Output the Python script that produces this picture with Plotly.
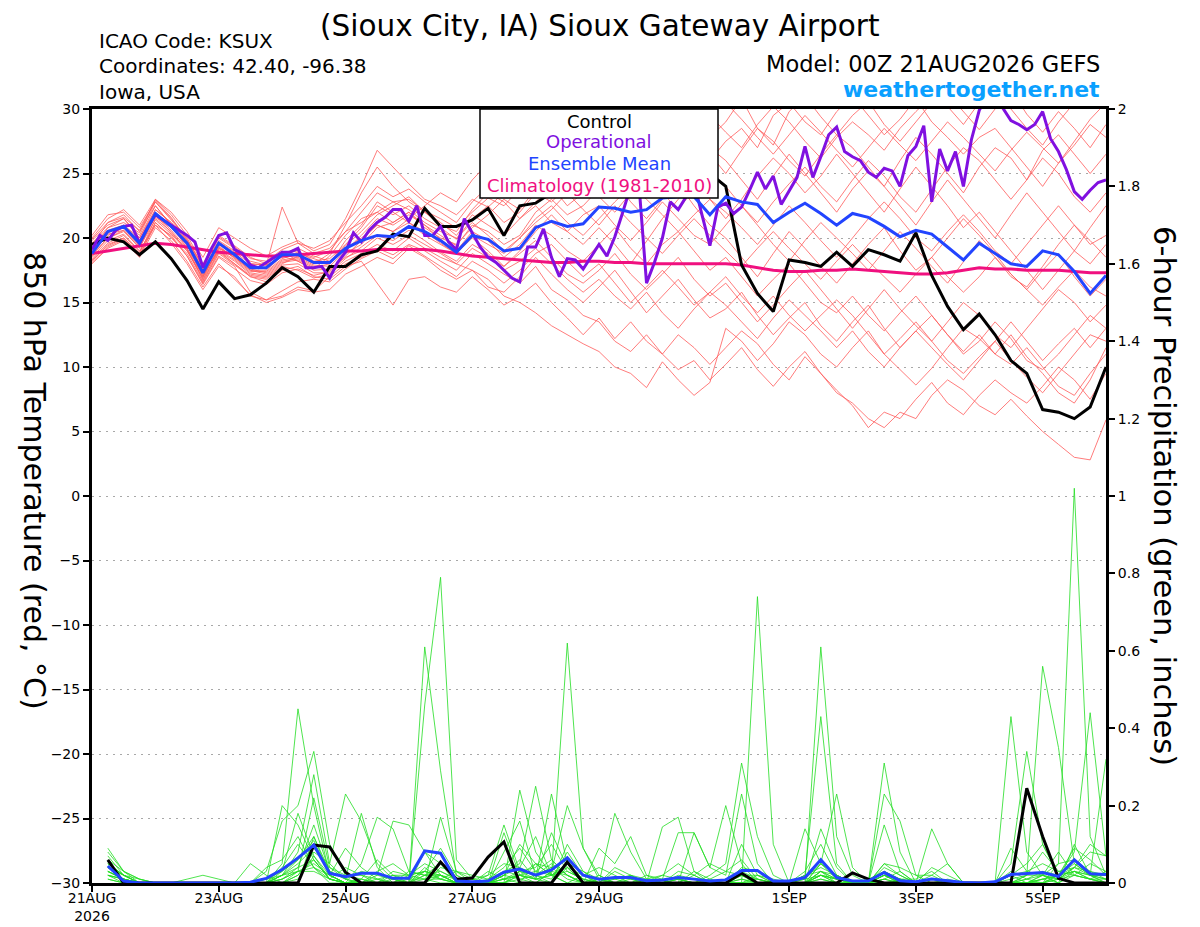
import pandas as pd
import plotly.graph_objects as go

FONT = 'DejaVu Sans, Liberation Sans, Arial, sans-serif'

# ensemble output every 6 h, operational run every 3 h
times = pd.date_range('2026-08-21 00:00', periods=65, freq='6h')
op_times = pd.date_range('2026-08-21 00:00', periods=129, freq='3h')
precip_times = times[1:]

tick_dates = ['2026-08-21', '2026-08-23', '2026-08-25', '2026-08-27',
              '2026-08-29', '2026-09-01', '2026-09-03', '2026-09-05']
tick_labels = ['21AUG<br>2026', '23AUG', '25AUG', '27AUG', '29AUG', '1SEP', '3SEP', '5SEP']
temp_ticks = [-30, -25, -20, -15, -10, -5, 0, 5, 10, 15, 20, 25, 30]
precip_ticks = [0, 0.2, 0.4, 0.6, 0.8, 1.0, 1.2, 1.4, 1.6, 1.8, 2.0]
precip_tick_labels = ['0', '0.2', '0.4', '0.6', '0.8', '1', '1.2', '1.4', '1.6', '1.8', '2']

# 850 hPa temperature (C)
control_temp = [19.5, 20.0, 19.7, 18.7, 19.7, 18.4, 16.7, 14.5, 16.6, 15.3,
                15.6, 16.5, 17.7, 17.0, 15.8, 17.8, 17.8, 18.7, 19.0, 20.3,
                20.1, 22.3, 20.9, 20.9, 21.4, 22.3, 20.2, 22.5, 22.7, 23.5,
                24.0, 23.5, 24.5, 24.0, 25.0, 24.5, 25.5, 24.8, 25.5, 25.0,
                24.0, 17.9, 15.7, 14.3, 18.3, 18.1, 17.8, 18.9, 17.8, 19.1,
                18.7, 18.2, 20.4, 17.1, 14.7, 12.9, 14.1, 12.5, 10.5, 9.5,
                6.7, 6.5, 6.0, 6.9, 10.0]

operational_temp = [19.1, 20.2, 19.8, 20.6, 20.9, 21.0, 19.6, 20.8, 21.8, 21.4,
                    21.0, 20.6, 20.2, 19.7, 17.7, 19.1, 20.2, 20.4, 19.1, 18.8,
                    17.9, 17.7, 18.1, 18.5, 18.9, 18.9, 19.2, 17.7, 17.7, 17.8,
                    16.9, 18.1, 18.9, 20.4, 19.7, 20.6, 21.2, 21.6, 22.2, 22.2,
                    21.3, 22.5, 20.2, 20.2, 20.9, 19.7, 19.1, 21.5, 20.4, 19.3,
                    18.5, 18.1, 17.5, 16.9, 16.6, 19.3, 19.3, 20.7, 18.5, 17.0,
                    18.4, 18.3, 17.6, 18.5, 19.5, 18.6, 20.1, 22.0, 24.0, 24.5,
                    16.5, 18.1, 20.0, 22.8, 22.2, 23.2, 24.3, 21.8, 19.4, 22.4,
                    22.7, 21.9, 22.4, 23.7, 25.1, 23.8, 24.8, 22.6, 23.7, 24.7,
                    27.1, 24.7, 26.3, 28.0, 28.6, 26.7, 26.3, 26.0, 25.1, 24.7,
                    25.4, 25.2, 24.0, 26.4, 27.1, 28.7, 22.8, 26.9, 25.2, 26.7,
                    24.0, 27.6, 29.9, 31.0, 31.0, 30.0, 29.1, 28.8, 28.4, 28.8,
                    29.8, 27.7, 26.7, 25.3, 23.6, 23.0, 23.7, 24.3, 24.5]

mean_temp = [18.8, 20.5, 20.9, 19.6, 21.9, 20.9, 19.6, 17.3, 19.6, 18.7,
             17.7, 17.7, 18.7, 18.7, 18.1, 18.1, 19.2, 19.8, 20.2, 20.1,
             20.9, 20.5, 19.8, 18.9, 20.2, 19.9, 19.0, 19.2, 20.8, 21.3,
             20.9, 21.1, 22.4, 22.3, 22.0, 22.2, 23.1, 23.2, 23.2, 21.8,
             23.2, 22.8, 22.6, 21.2, 22.0, 22.7, 21.9, 21.0, 21.9, 21.6,
             20.9, 20.1, 20.6, 20.3, 19.3, 18.3, 19.6, 18.8, 18.0, 17.8,
             19.0, 18.7, 17.4, 15.7, 17.1]

climo_temp = [18.8, 19.0, 19.2, 19.4, 19.6, 19.5, 19.3, 19.1, 18.9, 18.8,
              18.7, 18.6, 18.6, 18.7, 18.8, 18.9, 19.0, 19.0, 19.1, 19.1,
              19.1, 19.1, 19.0, 18.8, 18.6, 18.5, 18.4, 18.3, 18.2, 18.1,
              18.1, 18.2, 18.2, 18.1, 18.1, 18.0, 18.0, 18.0, 18.0, 18.0,
              18.0, 17.9, 17.7, 17.5, 17.4, 17.4, 17.5, 17.5, 17.6, 17.5,
              17.4, 17.3, 17.2, 17.2, 17.3, 17.5, 17.7, 17.6, 17.6, 17.5,
              17.5, 17.5, 17.4, 17.3, 17.3]

ens_t01 = [19.0, 20.8, 21.5, 20.2, 22.8, 21.5, 20.0, 17.8, 19.8, 19.0, 18.2, 17.9, 18.5, 18.9, 18.5, 19.0,
           20.5, 22.0, 23.5, 22.8, 23.0, 22.1, 21.5, 20.8, 22.0, 23.1, 22.5, 23.8, 25.0, 24.2, 25.5, 26.8,
           27.5, 26.0, 28.2, 29.5, 28.0, 30.5, 29.2, 27.8, 29.0, 30.8, 28.5, 27.2, 29.8, 31.0, 29.4, 28.0,
           29.5, 30.6, 28.8, 27.5, 29.0, 30.5, 31.2, 29.8, 28.4, 30.0, 31.5, 29.6, 28.2, 29.8, 28.5, 27.0, 28.8]
ens_t02 = [18.5, 19.8, 20.3, 19.0, 21.0, 20.2, 18.6, 16.5, 18.6, 17.8, 15.8, 15.2, 15.5, 16.2, 15.9, 17.0,
           18.0, 18.5, 19.2, 18.7, 19.5, 19.0, 18.2, 17.5, 18.8, 18.0, 17.2, 16.5, 17.8, 16.0, 15.2, 14.0,
           13.5, 12.0, 11.2, 12.5, 11.0, 9.8, 10.5, 9.0, 10.2, 11.5, 9.8, 8.5, 10.0, 11.2, 9.5, 8.0,
           7.2, 6.0, 5.3, 6.5, 6.0, 7.8, 9.0, 8.2, 7.0, 6.3, 7.5, 6.2, 5.0, 4.0, 3.0, 2.8, 5.9]
ens_t03 = [19.4, 21.2, 21.8, 20.5, 22.5, 21.0, 19.2, 16.8, 19.0, 18.0, 17.0, 16.8, 17.8, 17.5, 16.9, 17.2,
           18.2, 18.8, 19.5, 19.0, 20.0, 19.2, 18.5, 18.0, 17.5, 16.8, 15.5, 15.0, 14.2, 13.2, 12.5, 11.8,
           11.2, 10.0, 9.5, 8.4, 10.4, 9.0, 7.8, 8.8, 13.0, 12.0, 10.5, 11.8, 13.5, 12.5, 11.0, 10.0,
           11.5, 12.8, 11.0, 9.8, 8.6, 9.9, 11.5, 13.0, 12.2, 11.0, 12.5, 10.8, 9.5, 8.0, 7.2, 9.0, 11.5]
ens_t04 = [20.0, 21.5, 22.2, 21.0, 23.0, 22.0, 20.5, 18.5, 20.8, 20.0, 19.2, 18.6, 19.3, 19.8, 19.0, 19.5,
           21.5, 24.0, 26.8, 25.5, 24.2, 23.0, 22.5, 21.8, 23.0, 22.4, 23.5, 24.8, 25.8, 26.5, 25.0, 27.2,
           28.0, 27.0, 25.5, 27.8, 29.0, 28.2, 27.0, 26.5, 25.0, 26.8, 28.5, 27.5, 26.0, 24.8, 26.5, 28.0,
           27.0, 25.5, 24.0, 26.0, 27.8, 26.5, 25.0, 23.5, 25.5, 27.0, 26.2, 24.5, 26.8, 28.0, 26.5, 25.0, 26.5]
ens_t05 = [18.2, 19.5, 20.0, 18.8, 21.5, 20.5, 19.0, 16.9, 19.2, 18.5, 17.5, 17.2, 18.2, 18.4, 17.8, 17.5,
           18.8, 19.5, 20.8, 21.2, 22.0, 21.0, 20.2, 19.4, 21.0, 20.5, 19.5, 20.2, 22.0, 23.0, 21.8, 22.5,
           23.8, 24.5, 22.8, 21.5, 23.0, 24.2, 22.5, 21.0, 20.0, 18.5, 17.0, 18.8, 20.5, 19.2, 17.8, 16.5,
           18.0, 19.5, 20.8, 19.0, 17.5, 18.5, 20.0, 21.5, 20.2, 18.8, 17.2, 16.0, 17.5, 18.8, 17.0, 15.5, 16.8]
ens_t06 = [18.0, 19.2, 19.8, 18.5, 20.8, 19.8, 18.2, 16.2, 18.0, 16.8, 15.6, 15.0, 15.4, 16.0, 15.8, 16.0,
           17.2, 17.8, 18.5, 18.0, 19.2, 18.5, 17.5, 16.8, 17.5, 16.2, 15.8, 17.0, 18.5, 17.2, 16.0, 15.0,
           16.2, 17.5, 15.8, 14.2, 15.5, 16.8, 15.2, 13.8, 14.5, 15.8, 14.0, 12.5, 13.8, 15.0, 13.2, 12.0,
           13.5, 14.8, 13.0, 11.5, 12.8, 14.0, 12.5, 11.0, 12.0, 13.5, 12.2, 10.5, 9.8, 11.0, 12.5, 14.0, 13.0]
ens_t07 = [19.2, 20.5, 21.0, 19.8, 22.2, 21.2, 19.8, 17.5, 19.5, 18.8, 17.8, 17.6, 18.8, 19.0, 18.2, 18.4,
           19.5, 20.8, 22.5, 21.8, 22.5, 21.5, 20.8, 19.9, 21.5, 22.5, 21.2, 22.0, 23.5, 22.8, 24.0, 25.2,
           24.5, 25.8, 27.0, 26.0, 27.5, 28.8, 27.2, 26.0, 27.5, 28.5, 27.0, 29.5, 30.5, 29.0, 28.0, 29.8,
           31.0, 29.5, 28.0, 29.2, 30.8, 29.0, 27.8, 26.5, 27.8, 28.5, 27.0, 25.5, 24.0, 25.8, 27.5, 29.2, 30.5]
ens_t08 = [19.8, 21.0, 21.5, 20.0, 22.5, 21.0, 19.5, 17.0, 19.2, 18.6, 17.6, 17.3, 18.3, 18.5, 17.9, 17.8,
           19.0, 20.2, 21.5, 21.0, 21.8, 21.0, 19.9, 19.0, 20.5, 19.8, 18.5, 19.5, 21.0, 20.2, 19.0, 18.2,
           19.5, 20.8, 19.2, 18.0, 19.5, 20.5, 19.0, 17.5, 18.5, 17.0, 15.5, 16.8, 18.0, 16.5, 15.0, 14.2,
           15.5, 14.0, 12.8, 14.2, 15.5, 14.0, 12.5, 11.2, 12.5, 11.0, 10.2, 11.5, 10.0, 8.5, 7.8, 9.5, 11.0]
ens_t09 = [18.6, 20.0, 20.6, 19.2, 21.8, 20.6, 19.2, 17.2, 19.0, 18.2, 17.2, 17.0, 18.0, 18.6, 18.0, 18.8,
           21.0, 23.5, 25.5, 24.0, 22.8, 22.0, 21.2, 20.2, 21.8, 21.0, 20.2, 21.5, 22.8, 24.0, 22.5, 23.5,
           25.0, 24.0, 25.5, 26.8, 25.5, 24.2, 25.8, 27.0, 26.0, 24.5, 23.0, 24.8, 26.5, 25.0, 23.5, 22.0,
           23.8, 25.2, 24.0, 22.5, 21.0, 22.8, 24.5, 23.0, 21.5, 20.0, 21.8, 23.5, 22.0, 20.5, 19.0, 20.8, 22.5]
ens_t10 = [18.4, 19.6, 20.2, 18.9, 21.2, 20.0, 18.8, 16.6, 18.8, 17.9, 17.0, 16.6, 17.5, 17.8, 17.0, 16.8,
           17.8, 18.2, 16.5, 14.8, 16.8, 17.0, 16.2, 15.8, 17.0, 16.0, 14.8, 15.5, 16.5, 15.0, 13.8, 12.5,
           13.8, 12.2, 13.5, 12.0, 11.0, 12.5, 11.5, 10.2, 11.5, 12.8, 11.8, 10.2, 9.0, 10.8, 9.5, 8.2,
           7.0, 5.3, 6.5, 6.0, 7.5, 8.8, 7.2, 6.3, 7.8, 9.0, 8.0, 7.2, 8.5, 10.0, 9.0, 7.5, 9.5]
ens_t11 = [19.6, 20.8, 21.2, 20.4, 23.0, 21.8, 20.2, 18.0, 20.2, 19.4, 18.5, 18.0, 18.8, 19.2, 18.6, 18.2,
           19.4, 20.5, 21.8, 22.5, 23.2, 22.0, 21.0, 20.5, 22.2, 23.5, 22.8, 21.5, 22.5, 21.2, 20.5, 21.8,
           22.5, 21.0, 19.8, 21.2, 22.8, 21.5, 20.2, 19.5, 21.0, 22.5, 21.0, 19.5, 18.2, 19.8, 21.2, 20.0,
           18.8, 17.5, 19.0, 20.5, 19.2, 17.8, 16.5, 18.2, 19.8, 18.5, 17.0, 16.2, 17.8, 19.5, 21.0, 19.8, 18.5]
ens_t12 = [18.9, 20.2, 20.8, 19.4, 21.6, 20.8, 19.4, 17.4, 19.4, 18.4, 17.4, 17.4, 18.4, 18.8, 18.4, 18.0,
           19.2, 20.0, 21.0, 20.5, 21.5, 22.5, 23.5, 22.8, 24.5, 25.8, 24.5, 26.0, 27.2, 26.0, 27.5, 28.5,
           27.2, 28.8, 30.0, 29.0, 27.8, 29.5, 30.8, 29.5, 28.2, 27.0, 28.8, 30.2, 29.0, 27.5, 26.2, 27.8,
           29.0, 28.0, 26.8, 28.5, 29.8, 31.0, 30.2, 28.8, 30.5, 31.5, 30.0, 28.5, 27.2, 29.0, 30.5, 31.2, 30.0]
ens_t13 = [19.0, 20.4, 20.9, 19.5, 22.0, 20.9, 19.5, 17.0, 19.3, 18.5, 17.5, 17.5, 18.6, 18.2, 17.5, 17.6,
           18.5, 19.0, 20.0, 19.5, 20.2, 19.5, 18.8, 18.0, 19.2, 18.5, 17.8, 18.8, 19.8, 18.5, 17.2, 16.5,
           17.5, 18.8, 17.2, 16.0, 17.2, 18.5, 16.8, 15.5, 16.5, 15.0, 13.5, 14.8, 16.2, 17.5, 16.0, 14.5,
           13.0, 14.5, 16.0, 14.5, 13.2, 12.0, 13.5, 15.0, 14.0, 12.5, 11.5, 13.0, 14.5, 16.0, 15.0, 13.5, 14.8]
ens_t14 = [20.2, 21.8, 22.0, 20.8, 22.8, 21.4, 19.9, 17.7, 20.0, 19.2, 18.0, 17.9, 19.0, 18.2, 17.6, 18.6,
           20.2, 21.5, 22.0, 21.2, 22.0, 20.8, 20.0, 19.5, 20.8, 21.8, 23.0, 22.2, 23.8, 25.0, 23.8, 24.5,
           23.2, 22.0, 23.5, 24.8, 23.5, 22.2, 23.8, 25.2, 24.0, 22.5, 21.2, 22.8, 24.2, 25.5, 24.0, 22.8,
           24.5, 26.0, 24.8, 23.2, 22.0, 23.8, 25.5, 27.0, 26.0, 24.5, 23.0, 24.5, 26.2, 25.0, 23.2, 22.0, 23.5]
ens_t15 = [18.3, 19.4, 20.0, 18.7, 21.0, 19.6, 18.0, 16.0, 17.8, 17.0, 15.5, 15.2, 15.9, 16.6, 16.8, 16.6,
           17.6, 18.4, 19.0, 18.4, 19.4, 18.6, 17.8, 17.0, 18.2, 17.5, 16.5, 17.5, 18.8, 19.5, 18.2, 17.0,
           18.0, 16.5, 15.0, 16.2, 17.5, 16.2, 14.8, 15.8, 17.0, 15.5, 14.2, 15.5, 14.0, 12.8, 14.0, 15.2,
           14.0, 12.5, 11.0, 12.2, 13.5, 12.0, 10.5, 9.5, 10.8, 12.0, 10.5, 9.2, 8.0, 9.5, 11.0, 12.5, 12.0]
ens_t16 = [19.5, 20.6, 21.0, 20.0, 22.2, 21.2, 19.7, 17.6, 19.7, 18.9, 18.0, 17.9, 22.4, 19.6, 18.8, 19.2,
           20.5, 21.2, 22.0, 22.8, 22.2, 21.2, 20.5, 20.0, 21.2, 20.2, 19.0, 20.0, 21.5, 22.5, 21.2, 20.2,
           21.5, 22.8, 24.0, 23.0, 21.8, 20.5, 21.8, 23.0, 22.0, 20.8, 19.5, 21.0, 22.5, 21.2, 19.8, 18.5,
           20.0, 21.5, 22.8, 21.5, 20.0, 19.0, 20.5, 21.8, 20.5, 19.0, 18.0, 19.5, 21.0, 22.5, 21.0, 19.5, 20.2]
ens_t17 = [18.7, 20.0, 20.5, 19.3, 21.4, 20.3, 19.0, 17.1, 19.1, 18.3, 17.3, 17.1, 18.1, 18.3, 17.7, 18.0,
           19.8, 21.0, 22.8, 22.0, 21.2, 20.2, 19.5, 18.8, 20.0, 19.0, 17.8, 19.0, 20.5, 21.8, 20.5, 19.5,
           20.8, 19.5, 18.0, 19.8, 21.5, 23.0, 24.5, 23.0, 21.5, 23.0, 24.8, 26.2, 25.0, 23.5, 24.8, 26.5,
           25.0, 23.5, 22.0, 23.8, 25.5, 24.0, 22.5, 20.8, 22.0, 20.5, 19.0, 17.5, 16.0, 17.5, 19.0, 18.0, 19.5]
ens_t18 = [19.1, 20.3, 20.6, 19.4, 21.8, 20.4, 19.1, 16.7, 18.9, 18.0, 17.1, 16.9, 17.9, 18.0, 17.3, 17.3,
           18.4, 19.3, 20.2, 19.8, 20.6, 19.8, 18.9, 18.2, 19.5, 18.8, 17.5, 18.2, 19.2, 18.0, 16.8, 15.8,
           16.8, 15.5, 14.5, 15.8, 14.2, 13.0, 14.5, 15.8, 14.8, 13.5, 12.2, 13.8, 15.2, 14.0, 12.8, 11.5,
           12.8, 11.2, 10.0, 11.5, 12.8, 11.5, 10.2, 9.0, 10.5, 12.0, 13.5, 12.0, 10.5, 11.8, 13.0, 11.5, 13.0]
ens_t19 = [19.9, 21.2, 21.6, 20.6, 22.9, 21.6, 19.8, 17.9, 20.1, 19.3, 18.4, 18.2, 19.1, 19.6, 19.2, 19.8,
           21.2, 22.5, 24.0, 23.2, 23.8, 22.8, 22.0, 21.2, 22.8, 24.0, 25.2, 24.2, 25.5, 26.8, 28.0, 26.5,
           25.5, 26.8, 28.0, 26.5, 25.2, 26.5, 28.2, 29.5, 30.5, 29.2, 27.8, 26.5, 28.0, 29.5, 28.2, 26.8,
           25.5, 27.0, 28.5, 27.2, 26.0, 27.5, 29.0, 27.8, 26.5, 25.2, 26.8, 28.2, 27.0, 25.8, 27.2, 28.8, 27.8]
ens_t20 = [18.1, 19.3, 19.9, 18.6, 21.2, 20.1, 18.6, 16.4, 18.5, 17.6, 16.7, 16.4, 17.3, 17.6, 17.1, 17.4,
           18.6, 19.8, 21.0, 20.5, 21.2, 20.5, 19.6, 18.8, 20.2, 19.5, 18.8, 20.0, 21.2, 22.2, 23.5, 22.2,
           21.0, 22.5, 21.2, 20.0, 18.8, 20.2, 21.5, 20.2, 19.0, 17.8, 19.2, 20.5, 19.2, 18.0, 16.8, 18.2,
           19.5, 18.2, 17.0, 15.8, 17.2, 18.5, 17.0, 15.8, 17.0, 18.5, 17.2, 16.0, 14.8, 16.2, 17.5, 16.2, 15.5]

# 6-hour precipitation (inches), valid 06Z 21AUG onward
control_precip = [0.06, 0, 0, 0, 0, 0, 0, 0, 0, 0, 0, 0, 0, 0.098, 0.093, 0.028,
                  0, 0, 0, 0, 0, 0.054, 0.01, 0.013, 0.067, 0.106, 0, 0, 0, 0.054, 0, 0,
                  0, 0, 0, 0, 0, 0, 0, 0, 0.025, 0, 0, 0, 0, 0, 0, 0.026,
                  0.01, 0, 0, 0, 0, 0, 0, 0, 0, 0, 0.245, 0.12, 0.012, 0, 0, 0]
mean_precip = [0.044, 0.005, 0, 0, 0, 0, 0, 0, 0, 0.002, 0.012, 0.035, 0.065, 0.098, 0.025, 0.016,
               0.025, 0.025, 0.012, 0.012, 0.083, 0.077, 0.005, 0.003, 0.005, 0.028, 0.036, 0.02, 0.034, 0.065, 0.02, 0.01,
               0.014, 0.014, 0.006, 0.008, 0.014, 0.01, 0.005, 0.008, 0.032, 0.032, 0.005, 0.005, 0.014, 0.06, 0.014, 0.005,
               0.005, 0.027, 0.006, 0.003, 0.01, 0.006, 0.001, 0, 0.003, 0.022, 0.025, 0.027, 0.017, 0.06, 0.024, 0.022]

ens_p01 = [0.09, 0.03, 0, 0, 0, 0, 0, 0, 0, 0, 0, 0.05, 0.45, 0.20, 0.02, 0,
           0, 0, 0, 0, 0.02, 0.05, 0.01, 0, 0, 0.02, 0.10, 0.05, 0.02, 0.62, 0.09, 0.02,
           0, 0.02, 0, 0, 0.01, 0, 0, 0, 0, 0.74, 0.10, 0, 0, 0.05, 0.01, 0,
           0, 0.02, 0.01, 0, 0, 0, 0, 0, 0, 0, 0, 0.02, 0.05, 1.02, 0.12, 0.02]
ens_p02 = [0.05, 0.02, 0, 0, 0, 0, 0, 0, 0, 0, 0.03, 0.16, 0.20, 0.34, 0.10, 0.02,
           0.01, 0, 0, 0, 0.61, 0.29, 0.02, 0, 0, 0, 0.02, 0.01, 0.13, 0.04, 0, 0,
           0, 0, 0, 0, 0, 0, 0.02, 0.05, 0.31, 0.12, 0.02, 0, 0.02, 0.43, 0.05, 0,
           0, 0.02, 0, 0, 0, 0, 0, 0, 0, 0.05, 0.34, 0.10, 0.02, 0.08, 0.44, 0.07]
ens_p03 = [0.03, 0.01, 0, 0, 0, 0, 0, 0, 0, 0, 0, 0.02, 0.08, 0.28, 0.05, 0.23,
           0.16, 0.05, 0.01, 0, 0.46, 0.79, 0.06, 0.01, 0, 0.03, 0.05, 0.25, 0.06, 0.02, 0, 0,
           0.18, 0.08, 0.01, 0, 0, 0, 0, 0, 0.02, 0, 0, 0, 0, 0.61, 0.12, 0.02,
           0, 0.05, 0.02, 0, 0, 0, 0, 0, 0, 0, 0.02, 0.56, 0.35, 0.05, 0.02, 0.32]
ens_p04 = [0.07, 0.02, 0, 0, 0, 0, 0, 0, 0, 0, 0, 0, 0.03, 0.22, 0.04, 0.01,
           0.18, 0.04, 0, 0, 0, 0.17, 0.03, 0, 0, 0, 0.24, 0.08, 0.02, 0, 0, 0.09,
           0.05, 0.12, 0.02, 0, 0, 0.13, 0.04, 0.02, 0.23, 0.05, 0, 0, 0.14, 0.05, 0.02, 0,
           0, 0.31, 0.08, 0, 0.14, 0.05, 0, 0, 0, 0.43, 0.08, 0.02, 0, 0.03, 0.02, 0]
ens_p05 = [0.02, 0.01, 0, 0, 0, 0.01, 0.02, 0.01, 0, 0, 0, 0.03, 0.06, 0.12, 0.02, 0,
           0.05, 0.17, 0.14, 0.03, 0.02, 0.01, 0, 0, 0.02, 0.15, 0.03, 0.01, 0.23, 0.05, 0, 0,
           0, 0, 0, 0.145, 0.17, 0.03, 0, 0, 0, 0.02, 0, 0, 0.01, 0.05, 0.23, 0.04,
           0, 0.23, 0.16, 0.02, 0, 0, 0, 0, 0, 0, 0, 0, 0.05, 0.06, 0.02, 0.02]
ens_p06 = [0.04, 0.02, 0.01, 0, 0, 0, 0, 0, 0, 0.05, 0.02, 0, 0, 0.12, 0.03, 0.01,
           0, 0.02, 0.16, 0.15, 0.08, 0.02, 0, 0, 0, 0.13, 0.02, 0, 0.03, 0.20, 0.09, 0.01,
           0, 0, 0.02, 0.01, 0.13, 0.13, 0.04, 0.20, 0.05, 0, 0, 0, 0, 0.03, 0.01, 0,
           0, 0.15, 0.03, 0, 0.02, 0.05, 0, 0, 0, 0.02, 0.03, 0.05, 0.03, 0.04, 0.10, 0.07]
ens_p07 = [0.01, 0, 0, 0, 0, 0, 0, 0, 0, 0, 0, 0.01, 0.03, 0.05, 0.02, 0.09,
           0.04, 0.01, 0, 0, 0.04, 0.01, 0.03, 0.02, 0.01, 0.04, 0.09, 0.03, 0.06, 0.02, 0, 0.02,
           0, 0, 0, 0, 0, 0, 0.01, 0.03, 0.02, 0.02, 0.01, 0, 0, 0.02, 0.01, 0,
           0, 0.02, 0, 0, 0, 0, 0, 0, 0, 0, 0, 0, 0.02, 0.03, 0.01, 0]
ens_p08 = [0.06, 0.03, 0.01, 0, 0, 0, 0, 0, 0, 0, 0, 0.04, 0.10, 0.04, 0.01, 0,
           0, 0.03, 0.05, 0.02, 0.03, 0.02, 0, 0.01, 0.02, 0.05, 0.04, 0.12, 0.02, 0, 0.02, 0.04,
           0.02, 0, 0, 0, 0, 0.02, 0.05, 0.03, 0.06, 0.01, 0, 0, 0.03, 0.10, 0.02, 0,
           0.01, 0.03, 0.01, 0, 0.04, 0.02, 0, 0, 0, 0.09, 0.03, 0.02, 0.08, 0.02, 0.01, 0.03]
ens_p09 = [0.02, 0, 0, 0, 0, 0, 0, 0, 0, 0, 0, 0.20, 0.15, 0.06, 0.01, 0,
           0, 0, 0.02, 0.01, 0.03, 0.09, 0.02, 0, 0, 0.01, 0.03, 0.04, 0.10, 0.03, 0.01, 0,
           0, 0, 0, 0.02, 0.05, 0.02, 0, 0, 0.04, 0.03, 0, 0, 0, 0.02, 0, 0,
           0, 0.05, 0.04, 0.02, 0.02, 0, 0, 0, 0, 0.02, 0.05, 0.10, 0.02, 0.09, 0.06, 0.02]
ens_p10 = [0.03, 0.01, 0, 0, 0, 0, 0, 0, 0, 0, 0, 0.02, 0.05, 0.09, 0.04, 0.02,
           0.02, 0.01, 0, 0.02, 0.05, 0.03, 0.01, 0, 0, 0.02, 0.04, 0.02, 0.04, 0.06, 0.02, 0.01,
           0.01, 0.02, 0.01, 0, 0.02, 0.01, 0, 0.01, 0.02, 0.01, 0, 0, 0, 0.03, 0.02, 0,
           0, 0.03, 0.01, 0.01, 0.03, 0, 0, 0, 0, 0, 0.01, 0.02, 0.01, 0.04, 0.03, 0.02]
ens_p11 = [0.05, 0.02, 0, 0, 0, 0, 0, 0, 0, 0, 0, 0, 0.02, 0.06, 0.01, 0,
           0, 0, 0, 0, 0.08, 0.05, 0, 0, 0, 0.08, 0.16, 0.02, 0, 0.04, 0, 0,
           0, 0, 0, 0, 0, 0, 0, 0, 0.10, 0.02, 0, 0, 0, 0.14, 0.04, 0,
           0, 0.01, 0, 0, 0.01, 0, 0, 0, 0, 0, 0.02, 0.08, 0.03, 0.02, 0.05, 0.03]
ens_p12 = [0.02, 0.01, 0, 0, 0, 0, 0, 0, 0, 0, 0.01, 0.03, 0.18, 0.07, 0.01, 0,
           0, 0, 0, 0.03, 0.02, 0.02, 0.01, 0, 0.03, 0.01, 0, 0.05, 0.02, 0.03, 0.01, 0,
           0, 0, 0, 0, 0.01, 0, 0, 0, 0.02, 0, 0, 0, 0.01, 0.02, 0, 0,
           0, 0.03, 0, 0, 0, 0, 0, 0, 0, 0, 0, 0.02, 0, 0.10, 0.02, 0.01]
ens_p13 = [0.04, 0.01, 0, 0, 0, 0, 0, 0, 0, 0, 0, 0.01, 0.04, 0.15, 0.03, 0.01,
           0, 0, 0, 0, 0, 0.02, 0, 0, 0, 0, 0.01, 0.02, 0.01, 0.08, 0.02, 0,
           0.03, 0.01, 0, 0, 0, 0, 0, 0, 0, 0.01, 0, 0, 0, 0.02, 0.01, 0,
           0, 0.02, 0, 0, 0, 0.01, 0, 0, 0, 0, 0, 0, 0.02, 0.05, 0.02, 0]
ens_p14 = [0.08, 0.03, 0.01, 0, 0, 0, 0, 0, 0, 0, 0.04, 0.06, 0.12, 0.04, 0, 0,
           0.01, 0.06, 0.02, 0, 0, 0.04, 0.03, 0.01, 0, 0.02, 0.06, 0.01, 0, 0.10, 0.03, 0,
           0.04, 0.02, 0, 0, 0, 0.03, 0.01, 0, 0, 0, 0, 0, 0.02, 0.04, 0.02, 0,
           0, 0.01, 0.03, 0, 0, 0, 0, 0, 0, 0, 0, 0, 0.01, 0.04, 0.08, 0.07]
ens_p15 = [0.03, 0.01, 0, 0, 0, 0, 0, 0, 0, 0, 0, 0.02, 0.06, 0.11, 0.02, 0,
           0, 0, 0.03, 0.02, 0.03, 0.01, 0, 0, 0, 0, 0.03, 0.02, 0.05, 0.02, 0, 0.01,
           0, 0, 0, 0, 0.03, 0.02, 0, 0, 0.01, 0, 0, 0, 0, 0.01, 0, 0,
           0, 0, 0, 0, 0, 0, 0, 0, 0, 0, 0.01, 0.03, 0.02, 0.06, 0.03, 0.01]
ens_p16 = [0.01, 0, 0, 0, 0, 0, 0, 0, 0, 0, 0, 0, 0.02, 0.08, 0.05, 0.01,
           0.03, 0.02, 0.01, 0, 0.01, 0.02, 0, 0, 0, 0, 0.02, 0.01, 0.02, 0.05, 0.01, 0,
           0, 0, 0.01, 0.02, 0.01, 0, 0, 0, 0.02, 0, 0, 0, 0, 0.01, 0, 0,
           0, 0, 0.01, 0, 0, 0, 0, 0, 0, 0, 0, 0.01, 0, 0.02, 0.01, 0.01]
ens_p17 = [0.02, 0.01, 0, 0, 0, 0, 0, 0, 0, 0, 0, 0.01, 0.03, 0.03, 0.01, 0.04,
           0.02, 0, 0, 0.01, 0.01, 0.01, 0, 0, 0.01, 0.03, 0.02, 0.05, 0.04, 0.01, 0, 0,
           0, 0, 0, 0, 0, 0, 0, 0, 0, 0, 0, 0, 0, 0.05, 0.02, 0,
           0, 0.04, 0.02, 0, 0, 0, 0, 0, 0, 0.03, 0.01, 0, 0.01, 0.02, 0.01, 0]
ens_p18 = [0.05, 0.02, 0, 0, 0, 0, 0, 0, 0, 0, 0, 0, 0.01, 0.07, 0.02, 0,
           0, 0.01, 0.02, 0.02, 0.01, 0, 0, 0, 0, 0.01, 0.02, 0.01, 0.02, 0.04, 0.02, 0,
           0.01, 0, 0, 0, 0, 0, 0, 0.01, 0.03, 0.01, 0, 0, 0.02, 0.03, 0, 0,
           0, 0.01, 0, 0, 0, 0, 0, 0, 0, 0.01, 0.02, 0.02, 0.01, 0.03, 0.01, 0]
ens_p19 = [0.03, 0.01, 0, 0, 0, 0, 0, 0, 0, 0, 0.01, 0.02, 0.04, 0.06, 0.01, 0,
           0, 0, 0, 0, 0.02, 0.03, 0.01, 0, 0, 0.02, 0.01, 0, 0.03, 0.02, 0, 0,
           0, 0.01, 0, 0, 0, 0, 0, 0, 0, 0, 0, 0, 0, 0.02, 0.01, 0,
           0, 0, 0, 0, 0, 0, 0, 0, 0, 0, 0, 0.01, 0.02, 0.03, 0.02, 0.01]
ens_p20 = [0.04, 0.02, 0, 0, 0, 0, 0, 0, 0, 0, 0, 0.02, 0.03, 0.04, 0.02, 0,
           0.01, 0, 0.01, 0, 0.03, 0.02, 0, 0, 0, 0.01, 0.02, 0.03, 0.02, 0.05, 0.03, 0.01,
           0, 0, 0, 0, 0.01, 0, 0, 0, 0.01, 0, 0, 0, 0, 0.03, 0.01, 0,
           0, 0.02, 0.01, 0, 0, 0, 0, 0, 0, 0.02, 0, 0.01, 0.02, 0.04, 0.02, 0.02]

members_temp = [ens_t01, ens_t02, ens_t03, ens_t04, ens_t05, ens_t06, ens_t07, ens_t08, ens_t09, ens_t10,
                ens_t11, ens_t12, ens_t13, ens_t14, ens_t15, ens_t16, ens_t17, ens_t18, ens_t19, ens_t20]
members_precip = [ens_p01, ens_p02, ens_p03, ens_p04, ens_p05, ens_p06, ens_p07, ens_p08, ens_p09, ens_p10,
                  ens_p11, ens_p12, ens_p13, ens_p14, ens_p15, ens_p16, ens_p17, ens_p18, ens_p19, ens_p20]

fig = go.Figure()

for member in members_temp:
    fig.add_trace(go.Scatter(x=times, y=member, mode='lines',
                             line=dict(color='#ff5a5a', width=0.8), hoverinfo='skip'))
for member in members_precip:
    fig.add_trace(go.Scatter(x=precip_times, y=member, mode='lines', yaxis='y2',
                             line=dict(color='#22dd22', width=0.8), hoverinfo='skip'))

fig.add_trace(go.Scatter(x=precip_times, y=control_precip, mode='lines', yaxis='y2',
                         line=dict(color='black', width=3)))
fig.add_trace(go.Scatter(x=precip_times, y=mean_precip, mode='lines', yaxis='y2',
                         line=dict(color='#2244ff', width=3)))
fig.add_trace(go.Scatter(x=times, y=climo_temp, mode='lines',
                         line=dict(color='#f0107f', width=3)))
fig.add_trace(go.Scatter(x=times, y=control_temp, mode='lines',
                         line=dict(color='black', width=3)))
fig.add_trace(go.Scatter(x=op_times, y=operational_temp, mode='lines',
                         line=dict(color='#8010e0', width=3)))
fig.add_trace(go.Scatter(x=times, y=mean_temp, mode='lines',
                         line=dict(color='#2244ff', width=3)))


# window pixel -> paper helpers (plot area sits at x 92..1106, y 109..883 on screen)
def px_x(p):
    return (p - 92) / 1014


def px_y(p):
    return (883 - p) / 774


def text(s, x, y, size, color='black', anchor='center', angle=0):
    return dict(text=s, x=px_x(x), y=px_y(y), xref='paper', yref='paper',
                xanchor=anchor, yanchor='middle', showarrow=False, textangle=angle,
                font=dict(family=FONT, size=size, color=color))


annotations = [
    text('(Sioux City, IA) Sioux Gateway Airport', 600, 26, 29.5),
    text('ICAO Code: KSUX', 97, 41, 20, anchor='left'),
    text('Coordinates: 42.40, -96.38', 97, 66, 20, anchor='left'),
    text('Iowa, USA', 97, 92, 20, anchor='left'),
    text('Model: 00Z 21AUG2026 GEFS', 1102, 64, 22.5, anchor='right'),
    text('<b>weathertogether.net</b>', 1102, 89, 22, color='#0aa0ff', anchor='right'),
    text('Control', 599, 121, 18),
    text('Operational', 599, 142, 18, color='#8010e0'),
    text('Ensemble Mean', 599, 163, 18, color='#2244ff'),
    text('Climatology (1981-2010)', 599, 185, 18, color='#f0107f'),
    text('850 hPa Temperature (red, °C)', 35, 481, 30, angle=90),
    text('6-hour Precipitation (green, inches)', 1165, 496, 30.5, angle=90),
]

# the page body adds an 8 px offset, so the figure is 8 px smaller each way
fig.update_layout(
    width=1192, height=919, autosize=False,
    margin=dict(l=84, r=94, t=101, b=44),
    paper_bgcolor='white', plot_bgcolor='white',
    showlegend=False,
    font=dict(family=FONT, size=14, color='black'),
    annotations=annotations,
    shapes=[dict(type='rect', xref='paper', yref='paper',
                 x0=px_x(480), x1=px_x(718), y0=px_y(198), y1=px_y(109),
                 fillcolor='white', line=dict(color='black', width=1.5), layer='above')],
    xaxis=dict(type='date', range=['2026-08-21 00:00', '2026-09-06 00:00'],
               tickvals=tick_dates, ticktext=tick_labels, automargin=False,
               ticklabelstandoff=-6,
               showgrid=False, zeroline=False,
               showline=True, linecolor='black', linewidth=3, mirror=True,
               ticks='outside', ticklen=6, tickcolor='black', tickwidth=1.5,
               tickfont=dict(size=14)),
    yaxis=dict(range=[-30, 30], tickvals=temp_ticks, automargin=False,
               showgrid=True, gridcolor='#a8a8a8', griddash='2px,5px', gridwidth=1.2,
               zeroline=False, showline=True, linecolor='black', linewidth=3,
               ticks='outside', ticklen=6, tickcolor='black', tickwidth=1.5,
               tickfont=dict(size=14)),
    yaxis2=dict(range=[0, 2], tickvals=precip_ticks, ticktext=precip_tick_labels,
                overlaying='y', side='right', showgrid=False, zeroline=False,
                automargin=False, showline=True, linecolor='black', linewidth=3,
                ticks='outside', ticklen=6, tickcolor='black', tickwidth=1.5,
                tickfont=dict(size=14)),
)

fig.write_html("out.html")
